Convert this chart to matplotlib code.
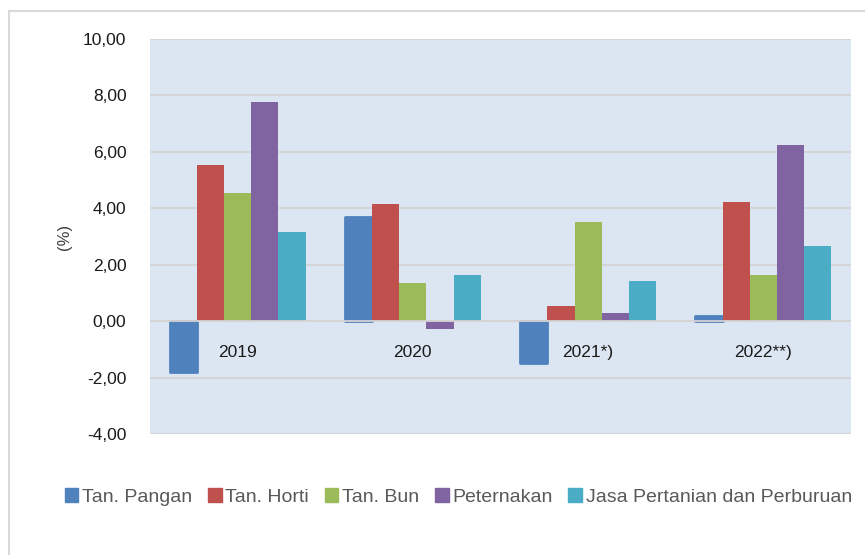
import matplotlib.pyplot as plt
import numpy as np
from matplotlib.lines import Line2D
from matplotlib.patches import Rectangle

plt.rcParams["font.family"] = ["Liberation Sans", "DejaVu Sans"]

YEARS = ["2019", "2020", "2021*)", "2022**)"]
SERIES = ["Tan. Pangan", "Tan. Horti", "Tan. Bun", "Peternakan",
          "Jasa Pertanian dan Perburuan"]
COLORS = ["#4f81bd", "#c0504d", "#9bbb59", "#8064a2", "#4bacc6"]

tan_pangan = [-1.80, 3.70, -1.50, 0.17]
tan_horti = [5.54, 4.15, 0.54, 4.22]
tan_bun = [4.55, 1.35, 3.52, 1.65]
peternakan = [7.77, -0.29, 0.29, 6.24]
jasa = [3.17, 1.64, 1.43, 2.65]
values = [tan_pangan, tan_horti, tan_bun, peternakan, jasa]

Y_TICKS = [-4, -2, 0, 2, 4, 6, 8, 10]

fig = plt.figure(figsize=(8.65, 5.55), dpi=100)
ax = fig.add_axes([150 / 865, 121 / 555, 701 / 865, 395 / 555])
ax.set_facecolor("#dce6f2")

x = np.arange(len(YEARS))
width = 0.155
for i, (name, vals) in enumerate(zip(SERIES, values)):
    offset = (i - 2) * width
    if i == 0:
        # rounded look of the first series
        ax.bar(x + offset, vals, width, color=COLORS[i], edgecolor=COLORS[i],
               linewidth=2.0, joinstyle="round", zorder=2)
    else:
        ax.bar(x + offset, vals, width, color=COLORS[i], linewidth=0, zorder=2)

ax.set_xlim(-0.5, len(YEARS) - 0.5)
ax.set_ylim(-4, 10)
ax.set_yticks(Y_TICKS)
ax.set_yticklabels([f"{v:.2f}".replace(".", ",") for v in Y_TICKS],
                   fontsize=12.5, color="#1a1a1a")
ax.set_xticks([])
ax.tick_params(axis="y", length=0, pad=17)
ax.grid(axis="y", color="#d4d4d4", linewidth=1.3, zorder=1)
for s in ax.spines.values():
    s.set_visible(False)
ax.axhline(0, color="#d4d4d4", linewidth=1.3, zorder=3)
ax.set_ylabel("(%)", fontsize=12, color="#404040", labelpad=8)

for xi, yr in zip(x, YEARS):
    ax.text(xi, -1.1, yr, ha="center", va="center", fontsize=12.5,
            color="#1a1a1a", zorder=4)

# legend
handles = [Rectangle((0, 0), 1, 1, color=c) for c in COLORS]
fig.legend(handles, SERIES, loc="center", bbox_to_anchor=(0.530, 0.104),
           ncol=5, frameon=False, fontsize=14, handlelength=0.7,
           handleheight=0.7, handletextpad=0.2, columnspacing=0.8,
           labelcolor="#595959")

# outer border (top and left)
fig.add_artist(Line2D([9 / 865, 1], [1 - 11 / 555, 1 - 11 / 555],
                      color="#d9d9d9", linewidth=1.5))
fig.add_artist(Line2D([9 / 865, 9 / 865], [0, 1 - 11 / 555],
                      color="#d9d9d9", linewidth=1.5))

fig.savefig("out.png", dpi=100)
